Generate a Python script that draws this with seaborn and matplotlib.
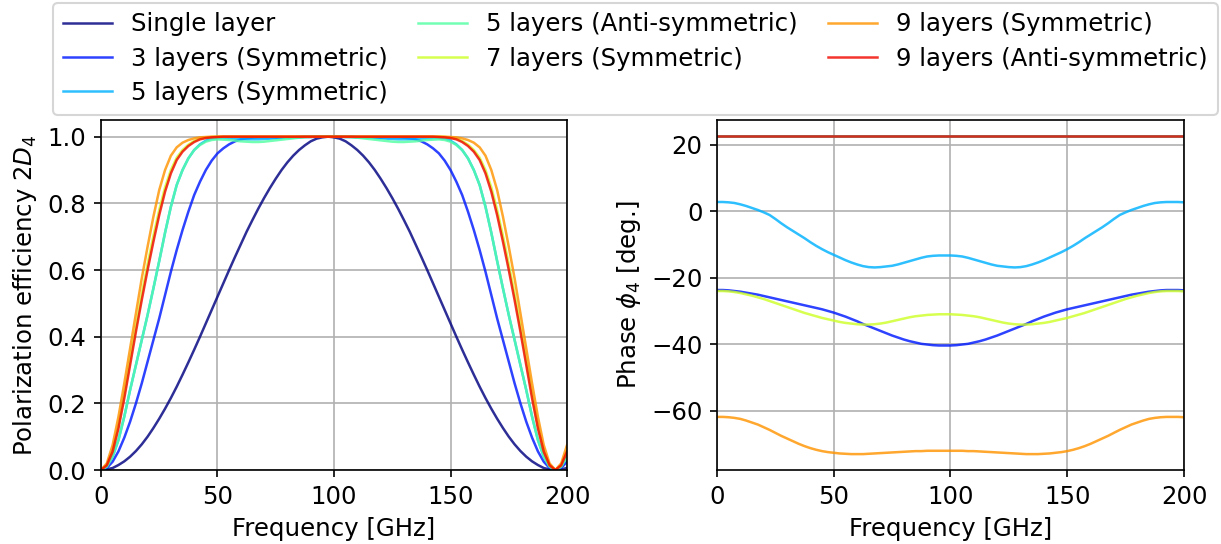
import numpy as np
import pandas as pd
import matplotlib
matplotlib.use("Agg")
import matplotlib.pyplot as plt
from matplotlib.lines import Line2D
import seaborn as sns

# ---------------- data ----------------
FREQ = np.arange(0, 200.01, 2.5)  # GHz sample grid

LABELS = [
    "Single layer",
    "3 layers (Symmetric)",
    "5 layers (Symmetric)",
    "5 layers (Anti-symmetric)",
    "7 layers (Symmetric)",
    "9 layers (Symmetric)",
    "9 layers (Anti-symmetric)",
]

EFF_SINGLE = [
    0.000, 0.002, 0.006, 0.015, 0.026, 0.040, 0.057, 0.077, 0.100, 0.126,
    0.154, 0.184, 0.216, 0.250, 0.286, 0.323, 0.361, 0.400, 0.440, 0.480,
    0.520, 0.560, 0.600, 0.639, 0.677, 0.715, 0.750, 0.784, 0.816, 0.846,
    0.874, 0.900, 0.923, 0.943, 0.960, 0.974, 0.986, 0.994, 0.998, 1.000,
    0.998, 0.994, 0.986, 0.974, 0.960, 0.943, 0.923, 0.900, 0.874, 0.846,
    0.816, 0.784, 0.750, 0.715, 0.677, 0.639, 0.600, 0.560, 0.520, 0.480,
    0.440, 0.400, 0.361, 0.323, 0.286, 0.250, 0.216, 0.184, 0.154, 0.126,
    0.100, 0.077, 0.057, 0.040, 0.026, 0.015, 0.006, 0.002, 0.000,
    0.002, 0.006,
]
EFF_3SYM = [
    0.000, 0.006, 0.025, 0.056, 0.097, 0.145, 0.200, 0.260, 0.325, 0.390,
    0.455, 0.525, 0.595, 0.660, 0.720, 0.775, 0.825, 0.865, 0.900, 0.928,
    0.950, 0.965, 0.977, 0.986, 0.992, 0.995, 0.997, 0.998, 0.998, 0.998,
    0.997, 0.997, 0.997, 0.998, 0.998, 0.999, 0.999, 1.000, 1.000, 1.000,
    1.000, 1.000, 0.999, 0.999, 0.998, 0.998, 0.997, 0.997, 0.997, 0.998,
    0.998, 0.998, 0.997, 0.995, 0.992, 0.986, 0.977, 0.965, 0.950, 0.928,
    0.900, 0.865, 0.825, 0.775, 0.720, 0.660, 0.595, 0.525, 0.455, 0.390,
    0.325, 0.260, 0.200, 0.145, 0.097, 0.056, 0.025, 0.006, 0.000,
    0.006, 0.025,
]
EFF_5SYM = [
    0.000, 0.010, 0.040, 0.090, 0.160, 0.240, 0.315, 0.390, 0.465, 0.545,
    0.627, 0.712, 0.790, 0.855, 0.900, 0.935, 0.960, 0.977, 0.988, 0.994,
    0.996, 0.996, 0.995, 0.994, 0.993, 0.992, 0.992, 0.992, 0.993, 0.994,
    0.995, 0.996, 0.997, 0.998, 0.999, 1.000, 1.000, 1.000, 1.000, 1.000,
    1.000, 1.000, 1.000, 1.000, 0.999, 0.998, 0.997, 0.996, 0.995, 0.994,
    0.993, 0.992, 0.992, 0.992, 0.993, 0.994, 0.995, 0.996, 0.996, 0.994,
    0.988, 0.977, 0.960, 0.935, 0.900, 0.855, 0.790, 0.712, 0.627, 0.545,
    0.465, 0.390, 0.315, 0.240, 0.160, 0.090, 0.040, 0.010, 0.000,
    0.010, 0.040,
]
EFF_5ANTI = [
    0.000, 0.010, 0.040, 0.090, 0.160, 0.240, 0.315, 0.390, 0.465, 0.545,
    0.627, 0.712, 0.790, 0.855, 0.900, 0.935, 0.960, 0.975, 0.985, 0.990,
    0.992, 0.991, 0.990, 0.988, 0.986, 0.985, 0.984, 0.984, 0.985, 0.987,
    0.989, 0.991, 0.993, 0.995, 0.997, 0.998, 0.999, 1.000, 1.000, 1.000,
    1.000, 1.000, 0.999, 0.998, 0.997, 0.995, 0.993, 0.991, 0.989, 0.987,
    0.985, 0.984, 0.984, 0.985, 0.986, 0.988, 0.990, 0.991, 0.992, 0.990,
    0.985, 0.975, 0.960, 0.935, 0.900, 0.855, 0.790, 0.712, 0.627, 0.545,
    0.465, 0.390, 0.315, 0.240, 0.160, 0.090, 0.040, 0.010, 0.000,
    0.010, 0.040,
]
EFF_7SYM = [
    0.000, 0.015, 0.059, 0.133, 0.228, 0.330, 0.430, 0.527, 0.617, 0.702,
    0.780, 0.848, 0.900, 0.937, 0.960, 0.976, 0.987, 0.994, 0.997, 0.999,
    1.000, 1.000, 1.000, 1.000, 1.000, 1.000, 1.000, 1.000, 1.000, 1.000,
    1.000, 1.000, 1.000, 1.000, 1.000, 1.000, 1.000, 1.000, 1.000, 1.000,
    1.000, 1.000, 1.000, 1.000, 1.000, 1.000, 1.000, 1.000, 1.000, 1.000,
    1.000, 1.000, 1.000, 1.000, 1.000, 1.000, 1.000, 1.000, 1.000, 0.999,
    0.997, 0.994, 0.987, 0.976, 0.960, 0.937, 0.900, 0.848, 0.780, 0.702,
    0.617, 0.527, 0.430, 0.330, 0.228, 0.133, 0.059, 0.015, 0.000,
    0.015, 0.059,
]
EFF_9SYM = [
    0.000, 0.020, 0.075, 0.160, 0.260, 0.365, 0.470, 0.575, 0.670, 0.760,
    0.840, 0.900, 0.943, 0.968, 0.982, 0.990, 0.995, 0.998, 0.999, 1.000,
    1.000, 1.000, 1.000, 1.000, 1.000, 1.000, 1.000, 1.000, 1.000, 1.000,
    1.000, 1.000, 1.000, 1.000, 1.000, 1.000, 1.000, 1.000, 1.000, 1.000,
    1.000, 1.000, 1.000, 1.000, 1.000, 1.000, 1.000, 1.000, 1.000, 1.000,
    1.000, 1.000, 1.000, 1.000, 1.000, 1.000, 1.000, 1.000, 1.000, 1.000,
    0.999, 0.998, 0.995, 0.990, 0.982, 0.968, 0.943, 0.900, 0.840, 0.760,
    0.670, 0.575, 0.470, 0.365, 0.260, 0.160, 0.075, 0.020, 0.000,
    0.020, 0.075,
]
EFF_9ANTI = [
    0.000, 0.014, 0.055, 0.125, 0.215, 0.315, 0.415, 0.510, 0.600, 0.685,
    0.765, 0.835, 0.890, 0.930, 0.955, 0.972, 0.984, 0.992, 0.996, 0.998,
    0.999, 1.000, 1.000, 1.000, 1.000, 1.000, 1.000, 1.000, 1.000, 1.000,
    1.000, 1.000, 1.000, 1.000, 1.000, 1.000, 1.000, 1.000, 1.000, 1.000,
    1.000, 1.000, 1.000, 1.000, 1.000, 1.000, 1.000, 1.000, 1.000, 1.000,
    1.000, 1.000, 1.000, 1.000, 1.000, 1.000, 1.000, 1.000, 0.999, 0.998,
    0.996, 0.992, 0.984, 0.972, 0.955, 0.930, 0.890, 0.835, 0.765, 0.685,
    0.600, 0.510, 0.415, 0.315, 0.215, 0.125, 0.055, 0.014, 0.000,
    0.014, 0.055,
]

# phase [deg]; the anti-symmetric stacks and the single layer are flat
FREQ_FLAT = [0, 200]
PHASE_SINGLE = [22.7, 22.7]
PHASE_5ANTI = [22.7, 22.7]
PHASE_9ANTI = [22.7, 22.7]
PHASE_3SYM = [
    -23.7, -23.7, -23.8, -24.0, -24.2, -24.5, -24.8, -25.1, -25.5, -25.9,
    -26.3, -26.7, -27.1, -27.5, -27.9, -28.3, -28.7, -29.1, -29.5, -30.0,
    -30.5, -31.1, -31.7, -32.4, -33.1, -33.9, -34.6, -35.3, -36.0, -36.7,
    -37.4, -38.0, -38.6, -39.1, -39.5, -39.9, -40.1, -40.3, -40.4, -40.4,
    -40.4, -40.3, -40.1, -39.9, -39.5, -39.1, -38.6, -38.0, -37.4, -36.7,
    -36.0, -35.3, -34.6, -33.9, -33.1, -32.4, -31.7, -31.1, -30.5, -30.0,
    -29.5, -29.1, -28.7, -28.3, -27.9, -27.5, -27.1, -26.7, -26.3, -25.9,
    -25.5, -25.1, -24.8, -24.5, -24.2, -24.0, -23.8, -23.7, -23.7,
    -23.7, -23.8,
]
PHASE_5SYM = [
    2.8, 2.8, 2.7, 2.5, 2.1, 1.6, 1.0, 0.4, -0.3, -1.1,
    -2.3, -3.6, -4.8, -5.9, -7.0, -8.1, -9.3, -10.4, -11.4, -12.3,
    -13.1, -13.9, -14.7, -15.4, -16.0, -16.5, -16.8, -16.9, -16.8, -16.6,
    -16.4, -16.0, -15.5, -15.0, -14.5, -14.0, -13.6, -13.4, -13.3, -13.3,
    -13.3, -13.4, -13.6, -14.0, -14.5, -15.0, -15.5, -16.0, -16.4, -16.6,
    -16.8, -16.9, -16.8, -16.5, -16.0, -15.4, -14.7, -13.9, -13.1, -12.3,
    -11.4, -10.4, -9.3, -8.1, -7.0, -5.9, -4.8, -3.6, -2.3, -1.1,
    -0.3, 0.4, 1.0, 1.6, 2.1, 2.5, 2.7, 2.8, 2.8,
    2.8, 2.7,
]
PHASE_7SYM = [
    -24.0, -24.0, -24.1, -24.3, -24.6, -25.0, -25.4, -25.9, -26.4, -27.0,
    -27.6, -28.2, -28.8, -29.4, -30.0, -30.6, -31.1, -31.6, -32.1, -32.5,
    -32.9, -33.3, -33.6, -33.8, -34.0, -34.1, -34.1, -34.0, -33.8, -33.5,
    -33.1, -32.7, -32.3, -31.9, -31.6, -31.4, -31.2, -31.1, -31.0, -31.0,
    -31.0, -31.1, -31.2, -31.4, -31.6, -31.9, -32.3, -32.7, -33.1, -33.5,
    -33.8, -34.0, -34.1, -34.1, -34.0, -33.8, -33.6, -33.3, -32.9, -32.5,
    -32.1, -31.6, -31.1, -30.6, -30.0, -29.4, -28.8, -28.2, -27.6, -27.0,
    -26.4, -25.9, -25.4, -25.0, -24.6, -24.3, -24.1, -24.0, -24.0,
    -24.0, -24.1,
]
PHASE_9SYM = [
    -61.9, -61.9, -62.0, -62.2, -62.5, -63.0, -63.6, -64.2, -65.0, -65.8,
    -66.7, -67.6, -68.4, -69.2, -70.0, -70.7, -71.3, -71.8, -72.2, -72.5,
    -72.7, -72.9, -73.0, -73.1, -73.1, -73.1, -73.0, -72.9, -72.8, -72.7,
    -72.6, -72.5, -72.4, -72.3, -72.2, -72.2, -72.1, -72.1, -72.1, -72.1,
    -72.1, -72.1, -72.1, -72.2, -72.2, -72.3, -72.4, -72.5, -72.6, -72.7,
    -72.8, -72.9, -73.0, -73.1, -73.1, -73.1, -73.0, -72.9, -72.7, -72.5,
    -72.2, -71.8, -71.3, -70.7, -70.0, -69.2, -68.4, -67.6, -66.7, -65.8,
    -65.0, -64.2, -63.6, -63.0, -62.5, -62.2, -62.0, -61.9, -61.9,
    -61.9, -62.0,
]

# ---------------- plot ----------------
plt.rcParams["font.family"] = ["DejaVu Sans"]
plt.rcParams["font.size"] = 11.7

colors = plt.cm.jet(np.linspace(0, 0.9, 7))
ALPHA = 0.82
LW = 1.2

fig = plt.figure(figsize=(8.14, 3.6267), dpi=150)
ax1 = fig.add_axes([0.0827, 0.136, 0.3817, 0.6434])
ax2 = fig.add_axes([0.5872, 0.136, 0.3825, 0.6434])

eff_series = [EFF_SINGLE, EFF_3SYM, EFF_5SYM, EFF_5ANTI, EFF_7SYM, EFF_9SYM, EFF_9ANTI]
phase_series = [
    (FREQ_FLAT, PHASE_SINGLE), (FREQ, PHASE_3SYM), (FREQ, PHASE_5SYM),
    (FREQ_FLAT, PHASE_5ANTI), (FREQ, PHASE_7SYM), (FREQ, PHASE_9SYM),
    (FREQ_FLAT, PHASE_9ANTI),
]

for lab, y, c in zip(LABELS, eff_series, colors):
    df = pd.DataFrame({"freq": FREQ, "val": y})
    sns.lineplot(data=df, x="freq", y="val", ax=ax1, color=c, alpha=ALPHA,
                 linewidth=LW, legend=False, errorbar=None, sort=False)

for lab, (x, y), c in zip(LABELS, phase_series, colors):
    df = pd.DataFrame({"freq": x, "val": y})
    sns.lineplot(data=df, x="freq", y="val", ax=ax2, color=c, alpha=ALPHA,
                 linewidth=LW, legend=False, errorbar=None, sort=False)

for ax in (ax1, ax2):
    ax.set_xlim(0, 200)
    ax.set_xticks([0, 50, 100, 150, 200])
    ax.grid(True)
    ax.set_xlabel("Frequency [GHz]")
    lg = ax.get_legend()
    if lg is not None:
        lg.remove()

ax1.set_ylim(0, 1.05)
ax1.set_yticks([0.0, 0.2, 0.4, 0.6, 0.8, 1.0])
ax1.set_ylabel("Polarization efficiency $2D_4$")
ax2.set_ylabel(r"Phase $\phi_4$ [deg.]")

handles = [Line2D([0], [0], color=c, alpha=ALPHA, linewidth=LW) for c in colors]
fig.legend(handles, LABELS, loc="upper center", bbox_to_anchor=(0.5205, 0.995),
           ncol=3, columnspacing=1.23, handlelength=2.0, labelspacing=0.42,
           borderaxespad=0)

fig.savefig("out.png", dpi=150)
